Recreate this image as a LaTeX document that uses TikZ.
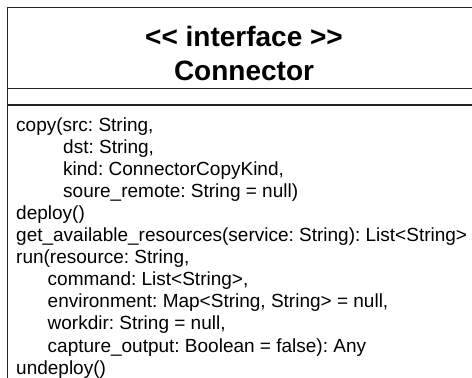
\documentclass[tikz,border=0pt]{standalone}
\usepackage{fontspec}
\setmainfont{Liberation Sans}
\frenchspacing
\definecolor{ink}{HTML}{000000}
\definecolor{rule}{HTML}{222222}
\tikzset{
  frame/.style={draw=rule, line width=1.6pt},
  ttl/.style={text=ink, font=\fontsize{28}{32}\selectfont\bfseries, anchor=base, inner sep=0pt},
  op/.style={text=ink, font=\fontsize{19}{24}\selectfont, anchor=base west, inner sep=0pt},
}
\begin{document}
\begin{tikzpicture}[x=1pt,y=-1pt]
  \def\dy{22.1}
  \useasboundingbox (0,0) rectangle (472,378);
  \fill[white] (0,0) rectangle (472,378);
  \clip (0,0) rectangle (472,378);

  % class box, cut at the right and bottom
  \draw[frame] (7.5,7.5) rectangle (480,400);
  \draw[frame] (7.5,88.5) -- (480,88.5);
  \draw[frame] (7.5,105) -- (480,105);

  \node[ttl] (stereo) at (244,46) {<\kern0pt< interface >\kern0pt>};
  \node[ttl] (name) at (244,80) {Connector};

  \node[op] (copy) at (16,131) {copy(src: String,};
  \node[op] (dst) at (63,131+\dy) {dst: String,};
  \node[op] (kind) at (63,131+2*\dy) {kind: ConnectorCopyKind,};
  \node[op] (soure) at (63,131+3*\dy) {soure\_remote: String = null)};
  \node[op] (deploy) at (16,131+4*\dy) {deploy()};
  \node[op] (avail) at (16,131+5*\dy) {get\_available\_resources(service: String): List<String>};
  \node[op] (run) at (16,131+6*\dy) {run(resource: String,};
  \node[op] (cmd) at (47.5,131+7*\dy) {command: List<String>,};
  \node[op] (env) at (47.5,131+8*\dy) {environment: Map<String, String> = null,};
  \node[op] (wdir) at (47.5,131+9*\dy) {workdir: String = null,};
  \node[op] (capt) at (47.5,131+10*\dy) {capture\_output: Boolean = false): Any};
  \node[op] (undeploy) at (16,131+11*\dy) {undeploy()};
\end{tikzpicture}
\end{document}
